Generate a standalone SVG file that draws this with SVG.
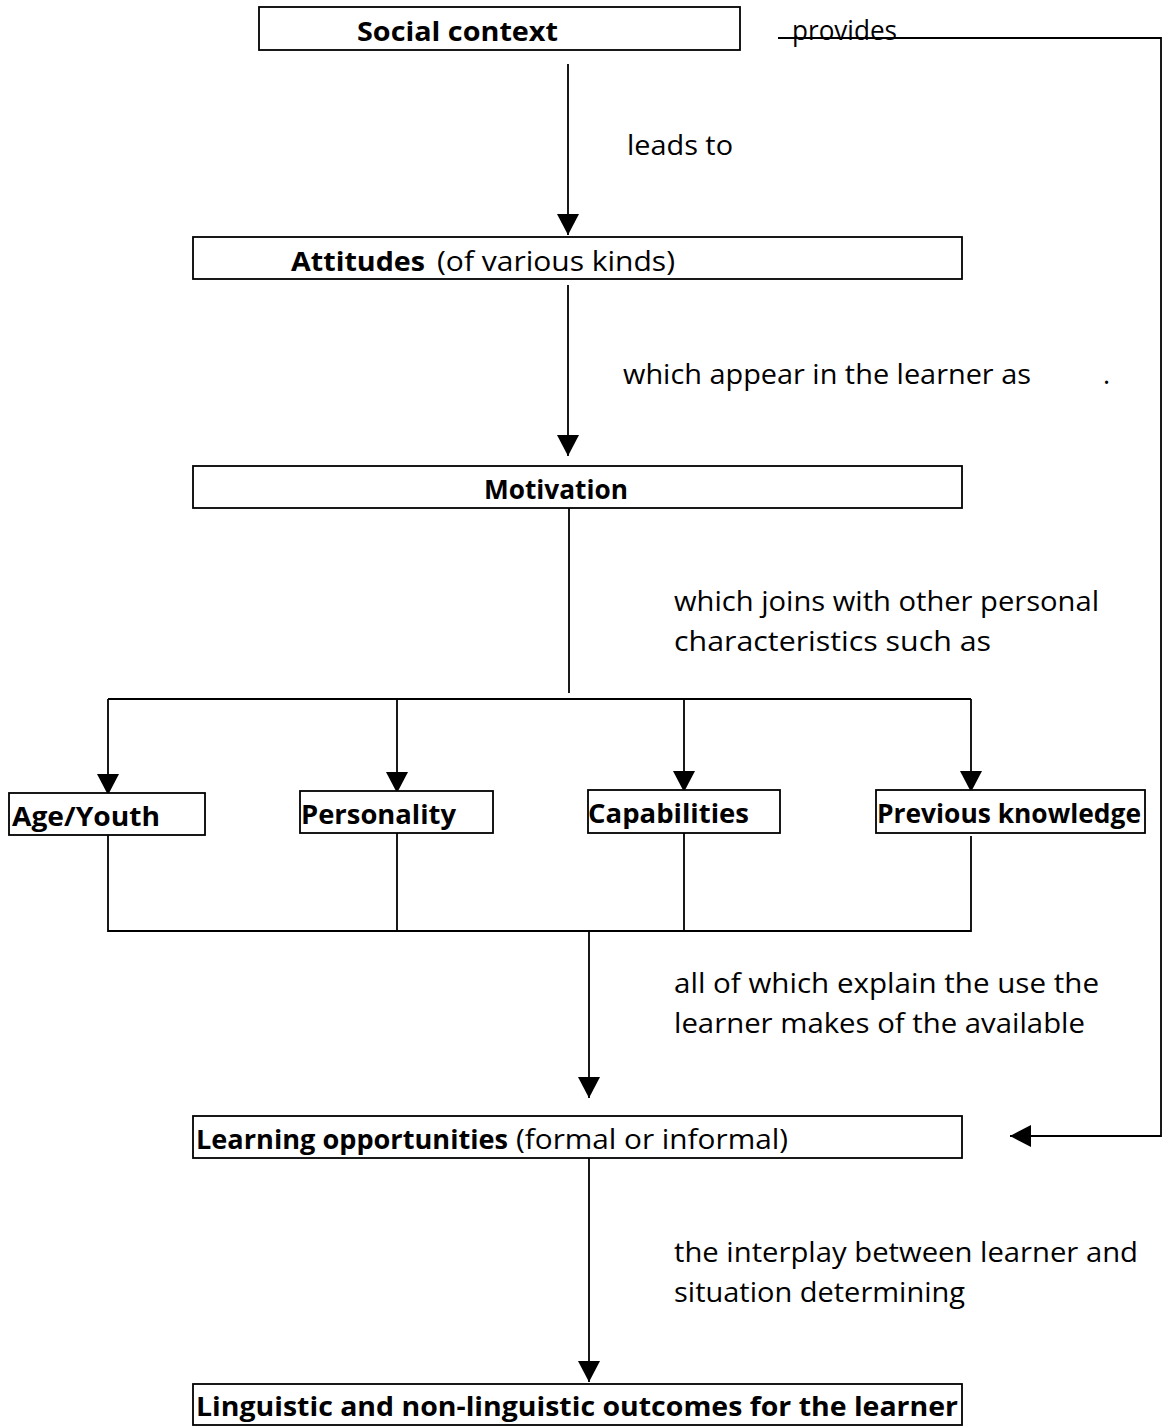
<svg xmlns="http://www.w3.org/2000/svg" width="1167" height="1426" viewBox="0 0 1167 1426">
  <defs>
    <marker id="arrow" markerUnits="userSpaceOnUse" markerWidth="21" markerHeight="22" refX="21" refY="11" orient="auto">
      <path d="M0,0 L21,11 L0,22 Z" fill="#000"/>
    </marker>
    <style>
      .box { fill: #fff; stroke: #000; stroke-width: 1.8; }
      .wire { fill: none; stroke: #000; stroke-width: 1.8; }
      .arr { fill: none; stroke: #000; stroke-width: 1.8; marker-end: url(#arrow); }
      text { font-family: "Comic Sans MS", "Open Sans", "DejaVu Sans", sans-serif; font-size: 27px; fill: #000; }
      .b { font-weight: bold; }
    </style>
  </defs>
  <rect width="1167" height="1426" fill="#fff"/>

  <!-- connectors -->
  <g id="connectors">
    <line class="arr" x1="568" y1="64" x2="568" y2="235"/>
    <line class="arr" x1="568" y1="285" x2="568" y2="456"/>
    <line class="wire" x1="569" y1="508" x2="569" y2="693"/>
    <line class="wire" x1="108" y1="699" x2="971" y2="699"/>
    <line class="arr" x1="108" y1="699" x2="108" y2="795"/>
    <line class="arr" x1="397" y1="699" x2="397" y2="793"/>
    <line class="arr" x1="684" y1="699" x2="684" y2="792"/>
    <line class="arr" x1="971" y1="699" x2="971" y2="792"/>
    <polyline class="wire" points="108,835 108,931 971,931 971,836"/>
    <line class="wire" x1="397" y1="833" x2="397" y2="931"/>
    <line class="wire" x1="684" y1="833" x2="684" y2="931"/>
    <line class="arr" x1="589" y1="931" x2="589" y2="1098"/>
    <line class="arr" x1="589" y1="1158" x2="589" y2="1382"/>
    <polyline class="arr" points="778,38 1161,38 1161,1136 1010,1136"/>
  </g>

  <!-- labels on connectors -->
  <g id="connector-labels">
    <text x="792" y="40" textLength="105" lengthAdjust="spacingAndGlyphs">provides</text>
    <text x="627" y="155" textLength="106" lengthAdjust="spacingAndGlyphs">leads to</text>
    <text x="623" y="384" textLength="408" lengthAdjust="spacingAndGlyphs">which appear in the learner as</text>
    <text x="1103" y="384">.</text>
    <text x="674" y="611" textLength="425" lengthAdjust="spacingAndGlyphs">which joins with other personal</text>
    <text x="674" y="651" textLength="317" lengthAdjust="spacingAndGlyphs">characteristics such as</text>
    <text x="674" y="993" textLength="425" lengthAdjust="spacingAndGlyphs">all of which explain the use the</text>
    <text x="674" y="1033" textLength="411" lengthAdjust="spacingAndGlyphs">learner makes of the available</text>
    <text x="674" y="1262" textLength="464" lengthAdjust="spacingAndGlyphs">the interplay between learner and</text>
    <text x="674" y="1302" textLength="291" lengthAdjust="spacingAndGlyphs">situation determining</text>
  </g>

  <g id="social-context">
    <rect class="box" x="259" y="7" width="481" height="43"/>
    <text class="b" x="357" y="41" textLength="201" lengthAdjust="spacingAndGlyphs">Social context</text>
  </g>

  <g id="attitudes">
    <rect class="box" x="193" y="237" width="769" height="42"/>
    <text class="b" x="291" y="271" textLength="134" lengthAdjust="spacingAndGlyphs">Attitudes</text>
    <text x="437" y="271" textLength="238" lengthAdjust="spacingAndGlyphs">(of various kinds)</text>
  </g>

  <g id="motivation">
    <rect class="box" x="193" y="466" width="769" height="42"/>
    <text class="b" x="484" y="499" textLength="144" lengthAdjust="spacingAndGlyphs">Motivation</text>
  </g>

  <g id="age-youth">
    <rect class="box" x="9" y="793" width="196" height="42"/>
    <text class="b" x="12" y="826" textLength="148" lengthAdjust="spacingAndGlyphs">Age/Youth</text>
  </g>

  <g id="personality">
    <rect class="box" x="300" y="791" width="193" height="42"/>
    <text class="b" x="301" y="824" textLength="155" lengthAdjust="spacingAndGlyphs">Personality</text>
  </g>

  <g id="capabilities">
    <rect class="box" x="588" y="790" width="192" height="43"/>
    <text class="b" x="588" y="823" textLength="161" lengthAdjust="spacingAndGlyphs">Capabilities</text>
  </g>

  <g id="previous-knowledge">
    <rect class="box" x="876" y="790" width="269" height="43"/>
    <text class="b" x="877" y="823" textLength="264" lengthAdjust="spacingAndGlyphs">Previous knowledge</text>
  </g>

  <g id="learning-opportunities">
    <rect class="box" x="193" y="1116" width="769" height="42"/>
    <text class="b" x="196" y="1149" textLength="312" lengthAdjust="spacingAndGlyphs">Learning opportunities</text>
    <text x="516" y="1149" textLength="272" lengthAdjust="spacingAndGlyphs">(formal or informal)</text>
  </g>

  <g id="outcomes">
    <rect class="box" x="193" y="1384" width="769" height="41"/>
    <text class="b" x="196" y="1416" textLength="762" lengthAdjust="spacingAndGlyphs">Linguistic and non-linguistic outcomes for the learner</text>
  </g>
</svg>
